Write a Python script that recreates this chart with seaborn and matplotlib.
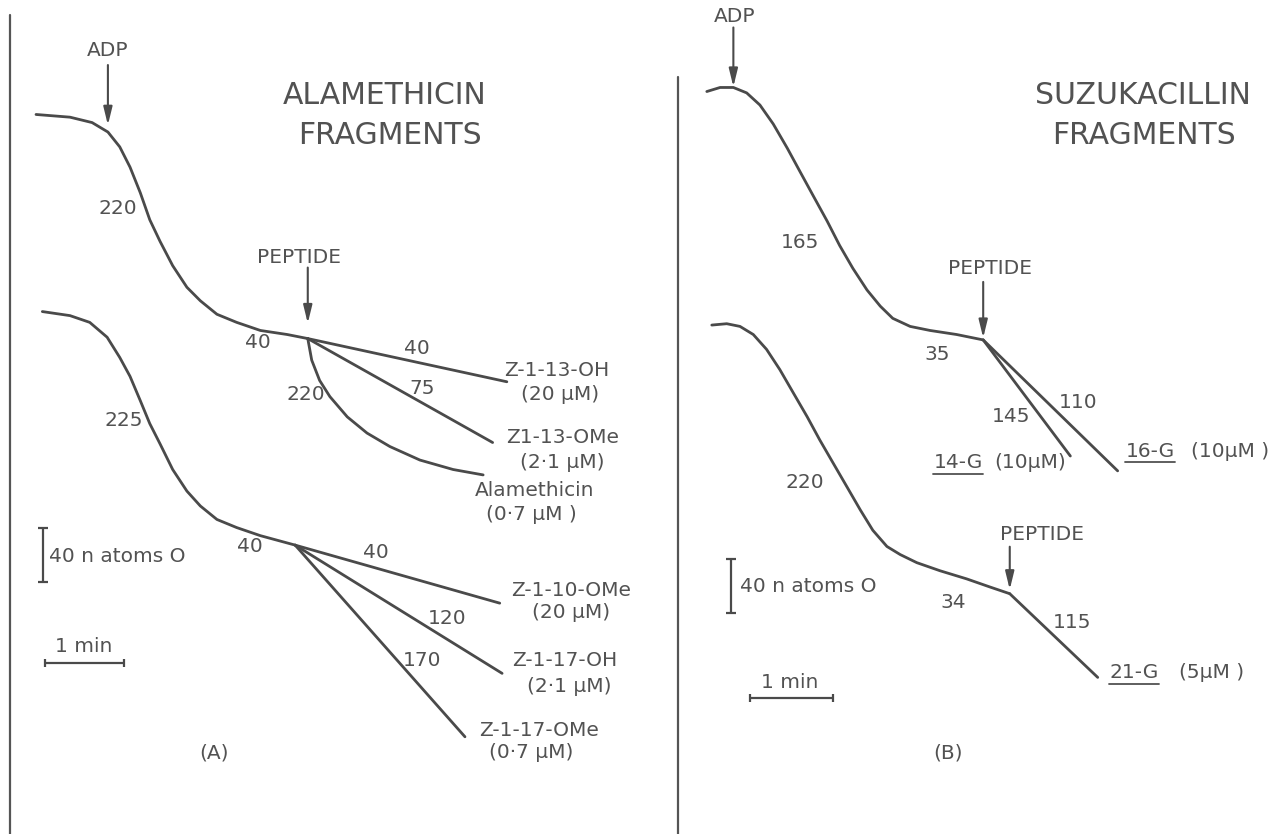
import matplotlib
matplotlib.use("Agg")
import matplotlib.pyplot as plt
from matplotlib.lines import Line2D
import pandas as pd
import seaborn as sns

sns.set_theme(style="white")
plt.rcParams["font.family"] = ["DejaVu Sans"]

W, H = 1280, 834
INK = "#4a4a4a"
TXT = "#525252"
FS = 14.5

# ---------------- Panel A: alamethicin fragments ----------------
# time in min, oxygen in n atoms O
a_top_t = [0.00, 0.43, 0.71, 0.91, 1.06, 1.19, 1.32, 1.44, 1.57, 1.73, 1.91,
           2.08, 2.29, 2.54, 2.84, 3.18, 3.44]
a_top_o = [533, 531, 527, 520, 509, 494, 475, 455, 439, 421, 405,
           395, 385, 379, 373, 370, 367]
a_z113oh_t = [3.44, 5.96]
a_z113oh_o = [367, 335]
a_z113ome_t = [3.44, 5.78]
a_z113ome_o = [367, 290]
a_alam_t = [3.44, 3.49, 3.59, 3.72, 3.94, 4.19, 4.48, 4.86, 5.28, 5.66]
a_alam_o = [367, 351, 336, 324, 309, 297, 287, 277, 270, 266]

a_bot_t = [0.08, 0.43, 0.68, 0.90, 1.06, 1.19, 1.32, 1.44, 1.57, 1.73, 1.91,
           2.08, 2.29, 2.54, 2.84, 3.28]
a_bot_o = [387, 384, 379, 368, 353, 339, 321, 304, 289, 270, 254,
           243, 233, 227, 221, 214]
a_z110ome_t = [3.28, 5.87]
a_z110ome_o = [214, 171]
a_z117oh_t = [3.28, 5.90]
a_z117oh_o = [214, 119]
a_z117ome_t = [3.28, 5.43]
a_z117ome_o = [214, 72]

# ---------------- Panel B: suzukacillin fragments ----------------
b_top_t = [0.01, 0.17, 0.33, 0.49, 0.65, 0.81, 0.98, 1.13, 1.29, 1.46, 1.61,
           1.77, 1.94, 2.10, 2.25, 2.46, 2.70, 3.02, 3.34]
b_top_o = [550, 553, 553, 549, 540, 526, 508, 491, 473, 454, 436,
           419, 403, 391, 382, 376, 373, 370, 366]
b_14g_t = [3.34, 4.39]
b_14g_o = [366, 280]
b_16g_t = [3.34, 4.96]
b_16g_o = [366, 269]

b_bot_t = [0.07, 0.25, 0.41, 0.57, 0.73, 0.89, 1.05, 1.22, 1.37, 1.53, 1.70,
           1.86, 2.01, 2.18, 2.34, 2.54, 2.82, 3.14, 3.42, 3.66]
b_bot_o = [377, 378, 376, 370, 359, 344, 327, 309, 292, 275, 257,
           240, 225, 213, 207, 201, 195, 189, 183, 178]
b_21g_t = [3.66, 4.72]
b_21g_o = [178, 116]

# rates (n atoms O / min) written beside the traces
a_top_rates = ["220", "40"]
a_top_pep_rates = ["40", "75", "220"]
a_bot_rates = ["225", "40"]
a_bot_pep_rates = ["40", "120", "170"]
b_top_rates = ["165", "35"]
b_top_pep_rates = ["145", "110"]
b_bot_rates = ["220", "34"]
b_bot_pep_rates = ["115"]

a_top_names = ["Z-1-13-OH", "Z1-13-OMe", "Alamethicin"]
a_top_conc = ["(20 μM)", "(2·1 μM)", "(0·7 μM )"]
a_bot_names = ["Z-1-10-OMe", "Z-1-17-OH", "Z-1-17-OMe"]
a_bot_conc = ["(20 μM)", "(2·1 μM)", "(0·7 μM)"]
b_names = ["14-G", "16-G", "21-G"]
b_conc = ["(10μM)", "(10μM )", "(5μM )"]


def traces(pairs):
    frames = []
    for key, (t, o) in pairs.items():
        frames.append(pd.DataFrame({"time": t, "oxygen": o, "trace": key}))
    return pd.concat(frames, ignore_index=True)


fig = plt.figure(figsize=(W / 100, H / 100), dpi=100)
fig.patch.set_facecolor("white")

axA = fig.add_axes([0, 0, 680 / W, 1])
axB = fig.add_axes([680 / W, 0, 600 / W, 1])
axA.set_xlim(-0.456, 8.152)
axB.set_xlim(-0.313, 6.916)
for ax in (axA, axB):
    ax.set_ylim(0, 617.8)
    ax.set_axis_off()

dfA = traces({
    "a_top": (a_top_t, a_top_o),
    "z113oh": (a_z113oh_t, a_z113oh_o),
    "z113ome": (a_z113ome_t, a_z113ome_o),
    "alam": (a_alam_t, a_alam_o),
    "a_bot": (a_bot_t, a_bot_o),
    "z110ome": (a_z110ome_t, a_z110ome_o),
    "z117oh": (a_z117oh_t, a_z117oh_o),
    "z117ome": (a_z117ome_t, a_z117ome_o),
})
dfB = traces({
    "b_top": (b_top_t, b_top_o),
    "g14": (b_14g_t, b_14g_o),
    "g16": (b_16g_t, b_16g_o),
    "b_bot": (b_bot_t, b_bot_o),
    "g21": (b_21g_t, b_21g_o),
})
for ax, df in ((axA, dfA), (axB, dfB)):
    sns.lineplot(data=df, x="time", y="oxygen", units="trace", estimator=None,
                 sort=False, color=INK, lw=2.0, ax=ax, legend=False)
    for ln in ax.get_lines():
        ln.set_solid_joinstyle("round")
        ln.set_solid_capstyle("round")
    ax.set_xlabel("")
    ax.set_ylabel("")


def arrow(ax, t, o, length_px, gap_pt=1):
    ax.annotate("", xy=(t, o), xycoords="data",
                xytext=(0, length_px), textcoords="offset pixels",
                arrowprops=dict(arrowstyle="-|>,head_length=0.9,head_width=0.22",
                                color=INK, lw=1.5, shrinkA=0, shrinkB=gap_pt))


arrow(axA, a_top_t[3], a_top_o[3], 67, gap_pt=5)
arrow(axA, a_top_t[-1], a_top_o[-1], 71, gap_pt=11)
arrow(axB, b_top_t[2], b_top_o[2], 60, gap_pt=0.5)
arrow(axB, b_top_t[-1], b_top_o[-1], 58, gap_pt=1.5)
arrow(axB, b_bot_t[-1], b_bot_o[-1], 47, gap_pt=3)


def scale_bars(ax, vx, v0, hx0, hy, cap_t, tick_o):
    kw = dict(color=INK, lw=1.6, solid_capstyle="butt")
    ax.plot([vx, vx], [v0, v0 + 40], **kw)
    ax.plot([vx - cap_t, vx + cap_t], [v0, v0], **kw)
    ax.plot([vx - cap_t, vx + cap_t], [v0 + 40, v0 + 40], **kw)
    ax.plot([hx0, hx0 + 1], [hy, hy], **kw)
    ax.plot([hx0, hx0], [hy - tick_o, hy + tick_o], **kw)
    ax.plot([hx0 + 1, hx0 + 1], [hy - tick_o, hy + tick_o], **kw)


scale_bars(axA, 0.09, 187, 0.11, 127, 0.06, 3)
scale_bars(axB, 0.30, 164, 0.53, 101, 0.06, 3)

# frame rules of the two panels
fig.add_artist(Line2D([10 / W, 10 / W], [1 - 15 / H, 0], color="#555555", lw=1.6))
fig.add_artist(Line2D([678 / W, 678 / W], [1 - 77 / H, 0], color="#555555", lw=1.6))


def label(px, py, s, size=FS, ha="center", **kw):
    return fig.text(px / W, 1 - py / H, s, ha=ha, va="center", fontsize=size,
                    color=TXT, **kw)


def underlined(px, py, s, size=FS):
    t = label(px, py, s, size=size)
    fig.canvas.draw()
    bb = t.get_window_extent()
    y = (bb.y0 - 1) / H
    fig.add_artist(Line2D([bb.x0 / W, bb.x1 / W], [y, y], color=TXT, lw=1.3))


TITLE = 21.5

# Panel A text
label(108, 50, "ADP")
label(385, 96, "ALAMETHICIN", size=TITLE)
label(390, 136, "FRAGMENTS", size=TITLE)
label(299, 257, "PEPTIDE")
label(118, 208, a_top_rates[0])
label(258, 343, a_top_rates[1])
label(417, 348, a_top_pep_rates[0])
label(422, 388, a_top_pep_rates[1])
label(306, 395, a_top_pep_rates[2])
for (x, y), s in zip([(557, 370), (563, 438), (535, 491)], a_top_names):
    label(x, y, s)
for (x, y), s in zip([(560, 395), (562, 462), (531, 514)], a_top_conc):
    label(x, y, s)
label(124, 421, a_bot_rates[0])
label(250, 547, a_bot_rates[1])
label(376, 552, a_bot_pep_rates[0])
label(447, 618, a_bot_pep_rates[1])
label(422, 660, a_bot_pep_rates[2])
for (x, y), s in zip([(571, 590), (565, 660), (539, 730)], a_bot_names):
    label(x, y, s)
for (x, y), s in zip([(571, 613), (569, 687), (531, 753)], a_bot_conc):
    label(x, y, s)
label(214, 753, "(A)")
label(49, 557, "40 n atoms O", ha="left")
label(84, 647, "1 min")

# Panel B text
label(735, 17, "ADP")
label(1143, 96, "SUZUKACILLIN", size=TITLE)
label(1144, 136, "FRAGMENTS", size=TITLE)
label(800, 242, b_top_rates[0])
label(990, 268, "PEPTIDE")
label(937, 354, b_top_rates[1])
label(1078, 403, b_top_pep_rates[1])
label(1011, 417, b_top_pep_rates[0])
underlined(958, 463, b_names[0])
label(1030, 463, b_conc[0])
underlined(1150, 452, b_names[1])
label(1230, 452, b_conc[1])
label(805, 483, b_bot_rates[0])
label(1042, 535, "PEPTIDE")
label(953, 602, b_bot_rates[1])
label(1072, 623, b_bot_pep_rates[0])
underlined(1134, 673, b_names[2])
label(1212, 673, b_conc[2])
label(740, 587, "40 n atoms O", ha="left")
label(790, 683, "1 min")
label(948, 753, "(B)")

fig.savefig("out.png", dpi=100, facecolor="white")
